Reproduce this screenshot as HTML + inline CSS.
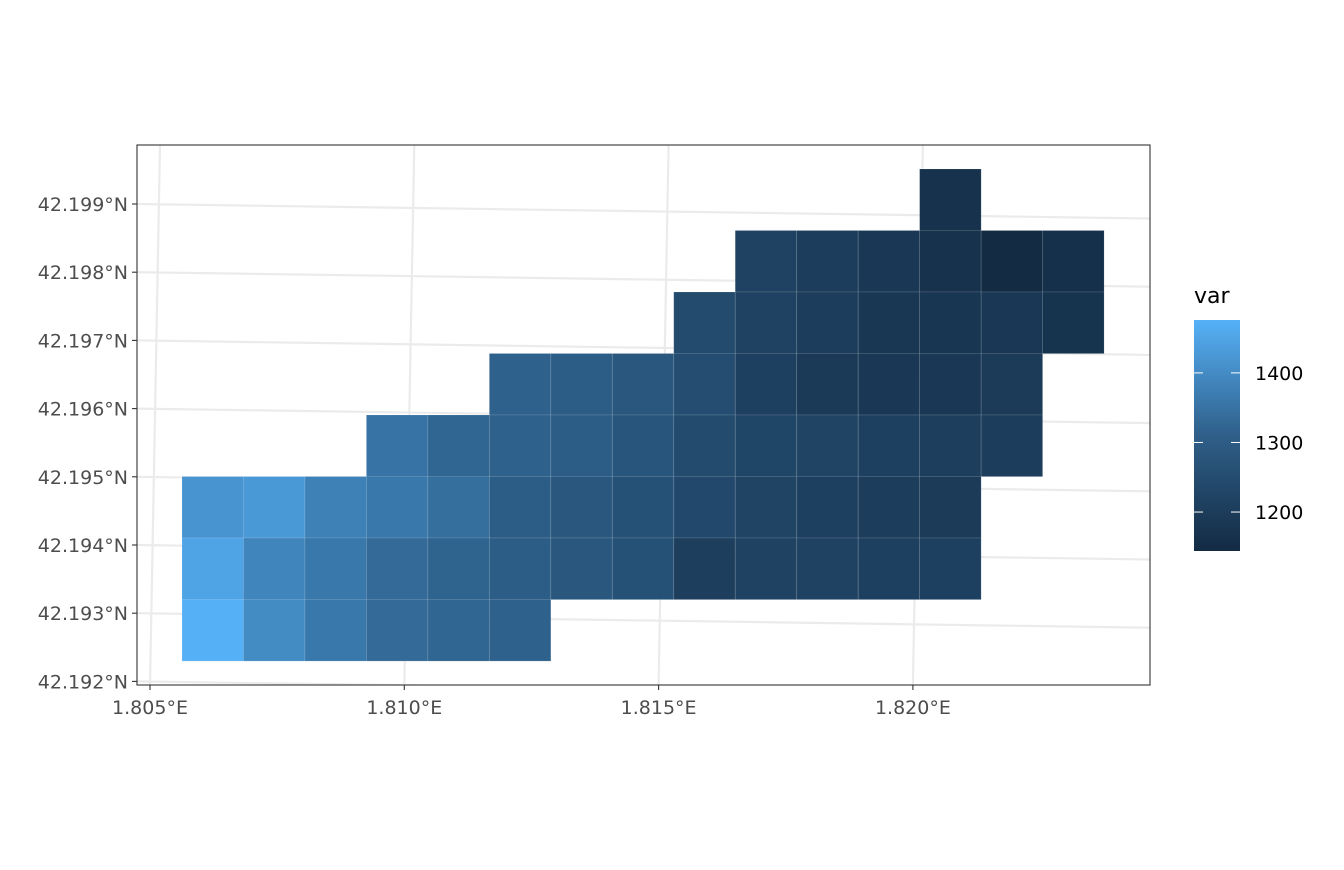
<!DOCTYPE html>
<html><head><meta charset="utf-8"><style>
body{margin:0;background:#fff;}
svg text{font-family:"DejaVu Sans","Liberation Sans",sans-serif;}
</style></head><body>
<svg width="1344" height="865" xmlns="http://www.w3.org/2000/svg">
<defs><linearGradient id="g" x1="0" y1="1" x2="0" y2="0">
<stop offset="0" stop-color="#132B43"/><stop offset="0.5" stop-color="#2F5F89"/><stop offset="1" stop-color="#56B1F7"/></linearGradient>
<clipPath id="clip"><rect x="137" y="145" width="1013" height="540"/></clipPath></defs>
<rect x="0" y="0" width="1344" height="865" fill="#fff"/>
<g id="grid" clip-path="url(#clip)"></g>
<g id="cells"></g>
<rect x="137" y="145" width="1013" height="540" fill="none" stroke="#333" stroke-width="1.1"/>
<g id="axes"></g>
<g>
<text x="1194" y="303" font-size="22" fill="#000">var</text>
<rect x="1194" y="320" width="46" height="231" fill="url(#g)"/>
<g id="leg"></g>
</g>
<script>
const rowStarts=[12,9,8,5,3,0,0,0];
const values=[
[1180],
[1230,1215,1200,1180,1150,1170],
[1255,1230,1215,1195,1190,1200,1185],
[1310,1300,1285,1260,1225,1205,1200,1200,1210],
[1350,1320,1310,1300,1280,1255,1240,1235,1225,1220,1215],
[1420,1430,1380,1360,1340,1300,1285,1270,1250,1235,1225,1215,1210],
[1450,1390,1360,1330,1315,1300,1285,1270,1220,1230,1230,1225,1225],
[1475,1400,1360,1330,1320,1310]
];
const legendTicks=[1200,1300,1400];
const yTicks=["42.199°N","42.198°N","42.197°N","42.196°N","42.195°N","42.194°N","42.193°N","42.192°N"];
const xTicks=["1.805°E","1.810°E","1.815°E","1.820°E"];
const NS="http://www.w3.org/2000/svg";
const vmin=1144,vmax=1476;
const col=c=>182+c*61.47, row=r=>169+r*61.5;
function color(v){let t=Math.max(0,Math.min(1,(v-vmin)/(vmax-vmin)));
t=Math.pow(t,1.3);
const a=[0x13,0x2B,0x43],b=[0x56,0xB1,0xF7];
return "rgb("+a.map((x,i)=>Math.round(x+(b[i]-x)*t)).join(",")+")";}
function el(tag,attrs,parent){const e=document.createElementNS(NS,tag);for(const k in attrs)e.setAttribute(k,attrs[k]);parent.appendChild(e);return e;}
const grid=document.getElementById('grid');
xTicks.forEach((t,i)=>{const x0=160+i*254.3;const l=el('line',{x1:x0,y1:145,x2:x0-10,y2:685,stroke:'#ebebeb','stroke-width':2.2},grid);

});
yTicks.forEach((t,i)=>{const y0=204+i*68.2;const l=el('line',{x1:137,y1:y0,x2:1150,y2:y0+14.5,stroke:'#ebebeb','stroke-width':2.2},grid);

});
const cells=document.getElementById('cells');
values.forEach((rv,r)=>rv.forEach((v,j)=>{const c=rowStarts[r]+j;
const e=el('rect',{x:col(c),y:row(r),width:61.5,height:61.6,fill:color(v),stroke:'rgba(255,255,255,0.15)','stroke-width':0.8},cells);

}));
const axes=document.getElementById('axes');
yTicks.forEach((t,i)=>{const y=204+i*68.2;
el('line',{x1:132,y1:y,x2:137,y2:y,stroke:'#333','stroke-width':1.1},axes);
const tx=el('text',{x:128,y:y+7,'text-anchor':'end','font-size':19,fill:'#4d4d4d'},axes);tx.textContent=t;

});
xTicks.forEach((t,i)=>{const x=150+i*254.3;
el('line',{x1:x,y1:685,x2:x,y2:690,stroke:'#333','stroke-width':1.1},axes);
const tx=el('text',{x:x,y:714,'text-anchor':'middle','font-size':19,fill:'#4d4d4d'},axes);tx.textContent=t;

});
const leg=document.getElementById('leg');
legendTicks.forEach(v=>{const y=551-(v-vmin)/(vmax-vmin)*231;
el('line',{x1:1194,y1:y,x2:1203,y2:y,stroke:'#fff','stroke-width':1},leg);
el('line',{x1:1231,y1:y,x2:1240,y2:y,stroke:'#fff','stroke-width':1},leg);
const tx=el('text',{x:1255,y:y+7,'font-size':19,fill:'#000'},leg);tx.textContent=v;

});
</script>
</svg>
</body></html>
